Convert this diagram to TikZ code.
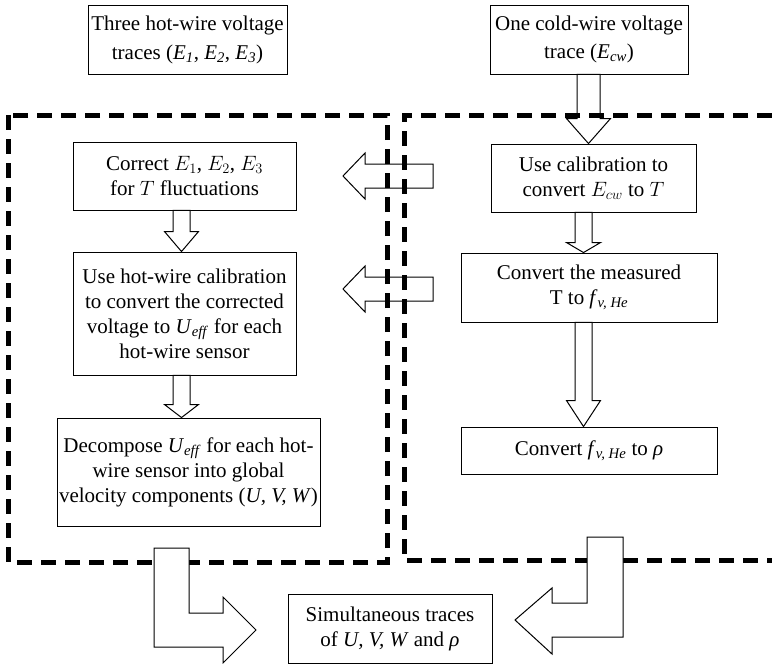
\documentclass[tikz,border=0pt]{standalone}
\usepackage{fontspec}
\setmainfont{Liberation Serif}
\usetikzlibrary{calc}

\tikzset{
  stage/.style={draw, fill=white, line width=0.9pt, align=center, inner sep=2pt,
    font=\fontsize{21}{25}\selectfont},
  blockarrow/.style={draw, fill=white, line width=1pt, line join=miter},
  region/.style={line width=5pt, dash pattern=on 15pt off 9pt},
}
\newcommand{\isub}[2]{\textit{#1}\textsubscript{\textit{#2}}}

\begin{document}
\begin{tikzpicture}[x=1pt,y=-1pt]
  \useasboundingbox (0,0) rectangle (772,664);
  % inputs
  \node[stage, minimum width=199, minimum height=69, font=\fontsize{21}{29}\selectfont] (hw) at (187.5,39.5)
    {Three hot-wire voltage\\traces (\isub{E}{1}, \isub{E}{2}, \isub{E}{3})};
  \node[stage, minimum width=198, minimum height=69, font=\fontsize{21}{28}\selectfont] (cw) at (589,39.5)
    {One cold-wire voltage\\trace (\isub{E}{cw})};
  % hot-wire branch
  \node[stage, minimum width=223, minimum height=68] (corr) at (184.5,176)
    {Correct $E_1$, $E_2$, $E_3$\\for $T$ fluctuations};
  \node[stage, minimum width=223, minimum height=123] (hwcal) at (184.5,313.5)
    {Use hot-wire calibration\\to convert the corrected\\voltage to \isub{U}{eff} for each\\hot-wire sensor};
  \node[stage, minimum width=261, minimum height=108] (decomp) at (188.5,472)
    {Decompose \isub{U}{eff} for each hot-\\wire sensor into global\\velocity components (\textit{U, V, W})};
  % cold-wire branch
  \node[stage, minimum width=205, minimum height=68] (cal) at (593.5,178)
    {Use calibration to\\convert $E_{cw}$ to $T$};
  \node[stage, minimum width=256, minimum height=69] (meas) at (589,287.5)
    {Convert the measured\\T to \isub{f}{v, He}};
  \node[stage, minimum width=256, minimum height=47] (rho) at (589,450.5)
    {Convert \isub{f}{v, He} to \textit{ρ}};
  % output
  \node[stage, minimum width=204, minimum height=69] (sim) at (390,628.5)
    {Simultaneous traces\\of \textit{U, V, W} and \textit{ρ}};

  % vertical block arrows
  \foreach \s/\t/\dx/\hl/\sw/\hw in {cw/cal/-5/25/11.5/22, corr/hwcal/-3/20/8.5/17,
      hwcal/decomp/-7/13/8.5/17, cal/meas/-5.5/10/8.5/17, meas/rho/-5.5/26/8.5/17}{
    \coordinate (tail) at ($(\s.south -| \t.north)+(\dx,0)$);
    \coordinate (tip) at ($(\t.north)+(\dx,0)$);
    \draw[blockarrow] ($(tail)+(-\sw,0)$) -- ($(tip)+(-\sw,-\hl)$) -- ($(tip)+(-\hw,-\hl)$)
      -- (tip) -- ($(tip)+(\hw,-\hl)$) -- ($(tip)+(\sw,-\hl)$) -- ($(tail)+(\sw,0)$) -- cycle;
  }

  % horizontal block arrows (temperature passed to the hot-wire side)
  \coordinate (Ttail) at (433,176);
  \coordinate (Ttip) at (343,176);
  \coordinate (ftail) at (433,289);
  \coordinate (ftip) at (343,289);
  \foreach \tl/\tp in {Ttail/Ttip, ftail/ftip}
    \draw[blockarrow] ($(\tl)+(0,-12)$) -- ($(\tp)+(22,-12)$) -- ($(\tp)+(22,-23)$) -- (\tp)
      -- ($(\tp)+(22,23)$) -- ($(\tp)+(22,12)$) -- ($(\tl)+(0,12)$) -- cycle;

  % dashed regions
  \draw[region] (8,115) rectangle (387,562);
  \draw[region] (772,115) -- (404,115) -- (404,560) -- (772,560);

  % bent arrows into the output
  \draw[blockarrow] (154,548) -- (189,548) -- (189,613) -- (223,613) -- (223,597) -- (256,630)
    -- (223,663) -- (223,647) -- (154,647) -- cycle;
  \draw[blockarrow] (623,537) -- (587,537) -- (587,603) -- (552,603) -- (552,588) -- (515,620)
    -- (552,654) -- (552,637) -- (623,637) -- cycle;
\end{tikzpicture}
\end{document}
